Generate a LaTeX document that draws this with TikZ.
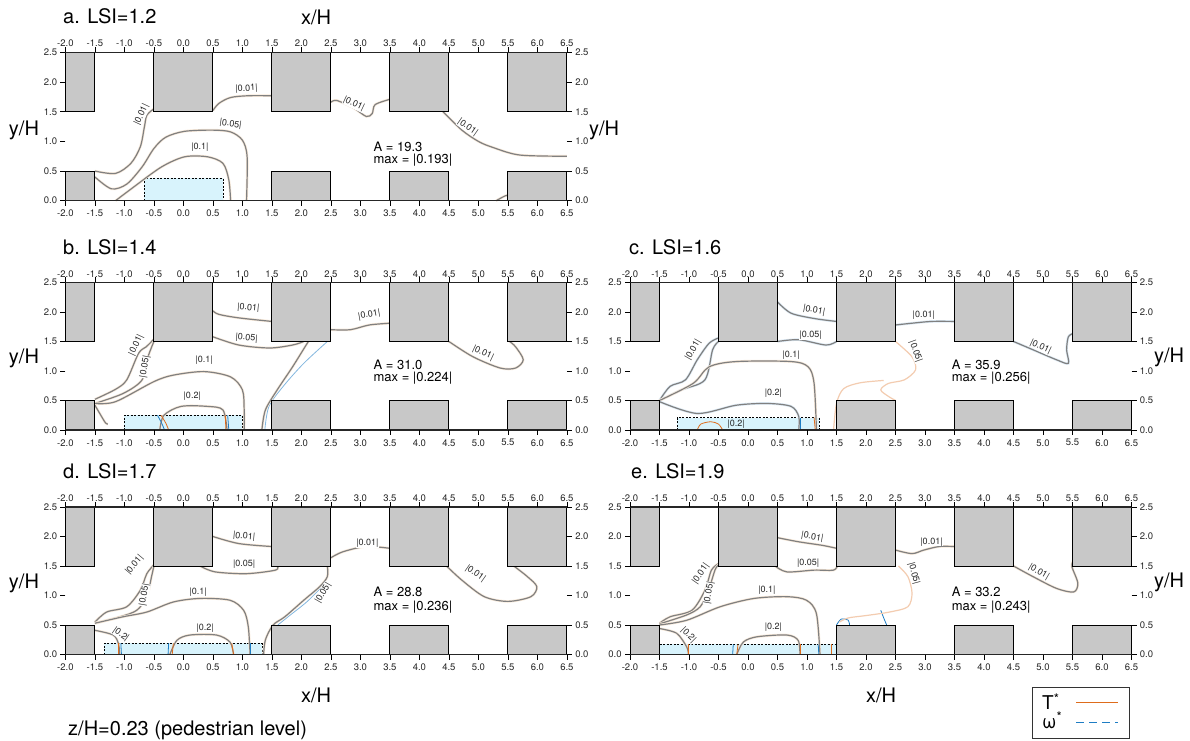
\documentclass[tikz,border=0pt]{standalone}
\usepackage{fontspec}
\setmainfont{TeX Gyre Heros}
\usepackage{xcolor}
\usetikzlibrary{positioning, calc}

\definecolor{bldgfill}{RGB}{200,200,200}
\definecolor{zonefill}{RGB}{216,243,252}
\definecolor{tcol}{RGB}{222,108,28}
\definecolor{wcol}{RGB}{30,125,196}
\definecolor{ctrgray}{RGB}{128,128,128}
\definecolor{halo}{RGB}{249,234,218}

\tikzset{
    bldg/.style={fill=bldgfill, draw=black, line width=0.9pt},
    axisline/.style={draw=black!85, line width=1.3pt},
    tickmark/.style={draw=black, line width=0.7pt},
    ticklab/.style={font=\fontsize{9.5}{10}\selectfont, inner sep=0pt, text=black!85},
    zone/.style={fill=zonefill, draw=black, line width=0.6pt, dash pattern=on 2pt off 1.5pt},
    ctr/.style={draw=ctrgray, line width=1.2pt, preaction={draw=halo, line width=2.5pt}},
    ctrw/.style={draw=ctrgray, line width=1.2pt, preaction={draw=wcol!15, line width=2.5pt}},
    tan/.style={draw=tcol!35, line width=1.2pt},
    tline/.style={draw=tcol, line width=0.8pt},
    wline/.style={draw=wcol, line width=0.8pt},
    lab/.style={font=\fontsize{9}{10}\selectfont, fill=white, inner sep=0.4pt, text=black!85},
    info/.style={font=\fontsize{13}{15}\selectfont, anchor=west, inner sep=0pt},
    ttl/.style={font=\fontsize{20}{24}\selectfont, anchor=base west, inner sep=0pt},
    axl/.style={font=\fontsize{20}{24}\selectfont, inner sep=0pt}
}

% buildings, axes and tick labels of one panel
\newcommand{\panelframe}[1]{%
    \foreach \xa/\xb in {-2/-1.5,1.5/2.5,3.5/4.5,5.5/6.5} {%
        \draw[bldg] (\xa,0) rectangle (\xb,0.5);
    }
    \foreach \xa/\xb in {-2/-1.5,-0.5/0.5,1.5/2.5,3.5/4.5,5.5/6.5} {%
        \draw[bldg] (\xa,1.5) rectangle (\xb,2.5);
    }
    \draw[axisline] (-2,2.5) -- (6.5,2.5);
    \draw[axisline] (-2,0) -- (6.5,0);
    \foreach \v [count=\k] in {-2.0,-1.5,-1.0,-0.5,0.0,0.5,1.0,1.5,2.0,2.5,3.0,3.5,4.0,4.5,5.0,5.5,6.0,6.5} {%
        \draw[tickmark] (\v,2.5) -- ++(0,5pt) node[ticklab, anchor=south] (#1top\k) {\v};
        \draw[tickmark] (\v,0) -- ++(0,-5pt) node[ticklab, anchor=north, yshift=-4pt] (#1bot\k) {\v};
    }
    \foreach \v [count=\k] in {0.0,0.5,1.0,1.5,2.0,2.5} {%
        \draw[tickmark] (-2,\v) -- ++(-5pt,0) node[ticklab, anchor=east, xshift=-3pt] (#1lft\k) {\v};
        \draw[tickmark] (6.5,\v) -- ++(5pt,0) node[ticklab, anchor=west, xshift=3pt] (#1rgt\k) {\v};
    }
}

\begin{document}
\begin{tikzpicture}

\fill[white] (0,0) rectangle (1190pt,740pt);
\useasboundingbox (0,0) rectangle (1190pt,740pt);

% === PANEL a: LSI=1.2 ===
\begin{scope}[shift={(183.4pt,539.3pt)}, x=59pt, y=59.3pt]
    \draw[zone] (-0.66,0) rectangle (0.67,0.38);
    \draw[ctr] plot[smooth] coordinates {(-1.5,0.5) (-1.15,0.46) (-0.89,0.63) (-0.73,0.91) (-0.66,1.25) (-0.62,1.44) (-0.5,1.55)};
    \draw[ctr] plot[smooth] coordinates {(0.5,1.52) (0.6,1.64) (0.8,1.74) (1.1,1.77) (1.5,1.77)};
    \draw[ctr] plot[smooth] coordinates {(2.5,1.66) (2.6,1.69) (2.89,1.56) (3.1,1.42) (3.2,1.47) (3.25,1.62) (3.5,1.71)};
    \draw[ctr] plot[smooth] coordinates {(4.4,1.5) (4.72,1.19) (5.0,1.0) (5.24,0.9) (5.7,0.77) (6.5,0.75)};
    \draw[ctr] plot[smooth] coordinates {(-1.5,0.4) (-1.22,0.2) (-0.96,0.28) (-0.7,0.57) (-0.5,0.88) (-0.3,1.07) (0.02,1.17) (0.5,1.19) (0.8,1.16) (1.0,1.02) (1.08,0.74) (1.07,0)};
    \draw[ctr] plot[smooth] coordinates {(-1.15,0) (-0.83,0.24) (-0.37,0.57) (0.02,0.74) (0.41,0.74) (0.67,0.63) (0.77,0.35) (0.8,0)};
    \draw[ctr] plot[smooth] coordinates {(5.3,0) (5.45,0.08) (5.53,0.1)};
    \node[lab, rotate=65] (a001a) at (-0.71,1.45) {|0.01|};
    \node[lab, rotate=3] (a001b) at (1.07,1.89) {|0.01|};
    \node[lab, rotate=-25] (a001c) at (2.89,1.63) {|0.01|};
    \node[lab, rotate=-35] (a001d) at (4.82,1.24) {|0.01|};
    \node[lab, rotate=-8] (a005) at (0.8,1.29) {|0.05|};
    \node[lab] (a01) at (0.28,0.9) {|0.1|};
    \panelframe{a}
    \node[info] (aA) at (3.22,0.91) {A = 19.3};
    \node[info] (aMax) at (3.22,0.69) {max = |0.193|};
\end{scope}

% === PANEL b: LSI=1.4 ===
\begin{scope}[shift={(183.4pt,310pt)}, x=59pt, y=59pt]
    \draw[zone] (-1,0) rectangle (1,0.25);
    \draw[wline, draw=wcol!55] plot[smooth] coordinates {(2.44,1.5) (2.04,1.13) (1.7,0.75) (1.45,0.4) (1.38,0)};
    \draw[ctr] plot[smooth] coordinates {(-1.5,0.52) (-1.15,0.69) (-0.96,0.85) (-0.76,1.3) (-0.63,1.41) (-0.5,1.54)};
    \draw[ctr] plot[smooth] coordinates {(-1.5,0.45) (-1.02,0.62) (-0.7,0.85) (-0.6,1.24) (-0.5,1.5)};
    \draw[ctr] plot[smooth] coordinates {(0.5,2.02) (0.6,1.96) (0.94,1.9) (1.5,1.84)};
    \draw[ctr] plot[smooth] coordinates {(2.5,1.7) (2.83,1.7) (3.15,1.78) (3.5,1.81)};
    \draw[ctr] plot[smooth] coordinates {(4.5,1.5) (4.91,1.24) (5.37,1.05) (5.63,1.05) (5.76,1.19) (5.63,1.41) (5.53,1.5)};
    \draw[ctr] plot[smooth] coordinates {(0.5,1.58) (0.94,1.44) (1.46,1.39) (1.85,1.44) (2.04,1.5)};
    \draw[ctr] plot[smooth] coordinates {(2.12,1.5) (2.08,1.44) (1.85,1.07) (1.59,0.68) (1.39,0.34) (1.33,0)};
    \draw[ctr] plot[smooth] coordinates {(-1.5,0.45) (-1.15,0.48) (-0.5,0.82) (-0.17,0.93) (0.35,0.99) (0.8,0.9) (1.0,0.68) (1.03,0.34) (1.03,0)};
    \draw[ctr] plot[smooth] coordinates {(-0.4,0) (-0.33,0.25) (-0.04,0.4) (0.41,0.4) (0.67,0.34) (0.74,0)};
    \draw[ctr] plot[smooth] coordinates {(-1.5,0.42) (-1.4,0.25) (-1.32,0.12) (-1.28,0.1)};
    \draw[tline] plot[smooth] coordinates {(-0.38,0.25) (-0.3,0.12) (-0.25,0)};
    \draw[wline] plot[smooth] coordinates {(-0.44,0.25) (-0.37,0.12) (-0.32,0)};
    \draw[tline] (0.71,0.25) -- (0.72,0);
    \draw[wline] (0.75,0.25) -- (0.77,0);
    \node[lab, rotate=65] (b001a) at (-0.8,1.44) {|0.01|};
    \node[lab, rotate=80] (b005a) at (-0.65,1.07) {|0.05|};
    \node[lab, rotate=-5] (b001b) at (1.1,2.07) {|0.01|};
    \node[lab, rotate=10] (b001c) at (3.15,1.95) {|0.01|};
    \node[lab, rotate=-25] (b001d) at (5.08,1.3) {|0.01|};
    \node[lab, rotate=-5] (b005b) at (1.07,1.56) {|0.05|};
    \node[lab] (b01) at (0.35,1.19) {|0.1|};
    \node[lab] (b02) at (0.15,0.57) {|0.2|};
    \panelframe{b}
    \node[info] (bA) at (3.22,1.1) {A = 31.0};
    \node[info] (bMax) at (3.22,0.88) {max = |0.224|};
\end{scope}

% === PANEL c: LSI=1.6 ===
\begin{scope}[shift={(748pt,310pt)}, x=59pt, y=59pt]
    \draw[zone] (-1.2,0) rectangle (1.2,0.21);
    \draw[tan] plot[smooth] coordinates {(1.45,0) (1.5,0.45) (1.62,0.7) (1.9,0.8) (2.3,0.84)};
    \draw[ctrw] plot[smooth] coordinates {(-1.5,0.5) (-1.32,0.74) (-1.06,0.85) (-0.86,1.19) (-0.66,1.47) (-0.5,1.56)};
    \draw[ctrw] plot[smooth] coordinates {(-1.5,0.5) (-1.13,0.68) (-0.73,0.85) (-0.6,1.36) (-0.5,1.5)};
    \draw[ctr] plot[smooth] coordinates {(-1.5,0.5) (-0.93,0.79) (-0.66,1.07) (-0.2,1.16) (0.73,1.16) (1.02,1.07) (1.12,0.79) (1.16,0)};
    \draw[ctrw] plot[smooth] coordinates {(0.5,2.17) (0.73,1.98) (1.12,1.89) (1.5,1.84)};
    \draw[ctrw] plot[smooth] coordinates {(2.5,1.78) (2.78,1.81) (3.11,1.84) (3.5,1.84)};
    \draw[ctrw] plot[smooth] coordinates {(4.5,1.5) (4.83,1.36) (5.23,1.19) (5.43,1.13) (5.4,1.36) (5.43,1.58) (5.52,1.64)};
    \draw[ctrw] plot[smooth] coordinates {(0.5,1.5) (0.86,1.53) (1.32,1.44) (1.5,1.5)};
    \draw[tan] plot[smooth] coordinates {(2.5,1.5) (2.78,1.24) (2.84,1.02) (2.65,0.85) (2.38,0.79) (2.25,0.68) (2.38,0.57) (2.5,0.5)};
    \draw[ctrw] plot[smooth] coordinates {(-1.5,0.48) (-0.86,0.28) (-0.2,0.42) (0.33,0.45) (0.73,0.4) (0.86,0.23) (0.86,0)};
    \draw[tline] plot[smooth] coordinates {(-0.86,0) (-0.8,0.1) (-0.63,0.14) (-0.5,0.1) (-0.43,0)};
    \draw[wline] (0.88,0.21) -- (0.88,0);
    \draw[tline] (1.12,0.21) -- (1.14,0);
    \node[lab, rotate=60] (c001a) at (-0.93,1.36) {|0.01|};
    \node[lab, rotate=-10] (c001b) at (1.12,2.03) {|0.01|};
    \node[lab] (c001c) at (2.98,1.95) {|0.01|};
    \node[lab, rotate=-25] (c001d) at (4.96,1.41) {|0.01|};
    \node[lab] (c005b) at (1.06,1.61) {|0.05|};
    \node[lab, rotate=-70] (c005c) at (2.84,1.33) {|0.05|};
    \node[lab] (c01) at (0.73,1.27) {|0.1|};
    \node[lab] (c02) at (0.43,0.62) {|0.2|};
    \node[lab, fill=none] (c02b) at (-0.2,0.1) {|0.2|};
    \panelframe{c}
    \node[info] (cA) at (3.45,1.1) {A = 35.9};
    \node[info] (cMax) at (3.45,0.88) {max = |0.256|};
\end{scope}

% === PANEL d: LSI=1.7 ===
\begin{scope}[shift={(183.4pt,85.5pt)}, x=59pt, y=59pt]
    \draw[zone] (-1.34,0) rectangle (1.33,0.19);
    \draw[wline, draw=wcol!55] plot[smooth] coordinates {(2.4,1.2) (2.1,0.9) (1.8,0.66) (1.6,0.5)};
    \draw[ctr] plot[smooth] coordinates {(-1.5,0.55) (-1.3,0.72) (-0.96,0.81) (-0.73,1.09) (-0.62,1.37) (-0.5,1.52)};
    \draw[ctr] plot[smooth] coordinates {(-1.5,0.53) (-1.07,0.64) (-0.79,0.75) (-0.62,0.98) (-0.54,1.32) (-0.5,1.5)};
    \draw[ctr] plot[smooth] coordinates {(-1.5,0.53) (-1.02,0.64) (-0.62,0.72) (-0.17,0.89) (0.28,0.95) (0.79,0.92) (1.02,0.75) (1.1,0.47) (1.13,0)};
    \draw[ctr] plot[smooth] coordinates {(0.5,2.0) (0.94,1.88) (1.5,1.83)};
    \draw[ctr] plot[smooth] coordinates {(2.5,1.64) (2.7,1.74) (3.09,1.83) (3.5,1.8)};
    \draw[ctr] plot[smooth] coordinates {(4.46,1.5) (4.72,1.26) (5.1,0.98) (5.5,0.9) (5.89,0.98) (5.99,1.15) (5.83,1.32) (5.6,1.5)};
    \draw[ctr] plot[smooth] coordinates {(0.28,1.5) (0.54,1.4) (1.07,1.37) (1.56,1.43) (1.59,1.5)};
    \draw[ctr] plot[smooth] coordinates {(2.44,1.5) (2.44,1.32) (2.31,1.15) (2.04,0.92) (1.72,0.64) (1.52,0.5) (1.39,0.25) (1.36,0)};
    \draw[ctr] plot[smooth] coordinates {(-1.5,0.41) (-1.19,0.33) (-1.1,0.18) (-1.08,0)};
    \draw[ctr] plot[smooth] coordinates {(-0.23,0) (-0.11,0.24) (0.11,0.33) (0.56,0.33) (0.79,0.21) (0.85,0)};
    \draw[wline] (-1.06,0.19) -- (-1.05,0);
    \draw[tline] (-1.1,0.19) -- (-1.1,0);
    \draw[wline] (-0.25,0.19) -- (-0.26,0);
    \draw[tline] (-0.17,0.19) -- (-0.19,0);
    \draw[tline] (0.82,0.19) -- (0.85,0);
    \draw[wline] (1.13,0.19) -- (1.13,0);
    \node[lab, rotate=50] (d001a) at (-0.83,1.52) {|0.01|};
    \node[lab, rotate=80] (d005a) at (-0.66,1.01) {|0.05|};
    \node[lab, rotate=-5] (d001b) at (1.03,2.0) {|0.01|};
    \node[lab] (d001c) at (3.12,1.89) {|0.01|};
    \node[lab, rotate=-35] (d001d) at (4.95,1.37) {|0.01|};
    \node[lab] (d005b) at (1.03,1.53) {|0.05|};
    \node[lab, rotate=60] (d005c) at (2.37,1.04) {|0.05|};
    \node[lab] (d01) at (0.25,1.06) {|0.1|};
    \node[lab, rotate=-35] (d02a) at (-1.06,0.34) {|0.2|};
    \node[lab] (d02b) at (0.37,0.44) {|0.2|};
    \panelframe{d}
    \node[info] (dA) at (3.22,1.06) {A = 28.8};
    \node[info] (dMax) at (3.22,0.81) {max = |0.236|};
\end{scope}

% === PANEL e: LSI=1.9 ===
\begin{scope}[shift={(748pt,85.5pt)}, x=59pt, y=59pt]
    \fill[zonefill] (-1.5,0) rectangle (1.5,0.17);
    \draw[zone] (-1.5,0.17) -- (1.5,0.17);
    \draw[wline] plot[smooth] coordinates {(2.25,0.75) (2.3,0.62) (2.35,0.5)};
    \draw[wline] plot[smooth] coordinates {(1.5,0.5) (1.58,0.6) (1.7,0.58) (1.72,0.5)};
    \draw[ctr] plot[smooth] coordinates {(-1.5,0.53) (-1.32,0.64) (-0.95,0.75) (-0.73,1.09) (-0.62,1.43) (-0.5,1.54)};
    \draw[ctr] plot[smooth] coordinates {(-1.5,0.52) (-1.04,0.67) (-0.81,0.81) (-0.67,1.09) (-0.56,1.43) (-0.5,1.52)};
    \draw[ctr] plot[smooth] coordinates {(-1.5,0.5) (-1.04,0.58) (-0.47,0.81) (0.1,0.95) (0.66,0.98) (0.99,0.92) (1.16,0.69) (1.22,0)};
    \draw[ctr] plot[smooth] coordinates {(0.5,1.98) (0.86,1.91) (1.26,1.85) (1.5,1.8)};
    \draw[ctr] plot[smooth] coordinates {(2.5,1.77) (2.78,1.71) (2.98,1.77) (3.24,1.83) (3.5,1.83)};
    \draw[ctr] plot[smooth] coordinates {(4.5,1.5) (4.83,1.32) (5.23,1.12) (5.52,1.06) (5.59,1.21) (5.49,1.49) (5.52,1.6)};
    \draw[ctr] plot[smooth] coordinates {(0.46,1.5) (0.66,1.4) (1.12,1.43) (1.45,1.43) (1.52,1.52)};
    \draw[tan] plot[smooth] coordinates {(2.55,1.5) (2.71,1.32) (2.78,1.04) (2.71,0.81) (2.4,0.72) (2.0,0.66) (1.7,0.62) (1.55,0.55)};
    \draw[ctr] plot[smooth] coordinates {(-1.5,0.44) (-1.21,0.36) (-1.04,0.13) (-1.01,0)};
    \draw[ctr] plot[smooth] coordinates {(-0.19,0) (-0.08,0.21) (0.15,0.3) (0.66,0.33) (0.85,0.24) (0.88,0)};
    \draw[tline] (-1.01,0.17) -- (-1.01,0);
    \draw[wline] (-0.25,0.17) -- (-0.26,0);
    \draw[tline] (-0.17,0.17) -- (-0.19,0);
    \draw[tline] (0.88,0.17) -- (0.88,0);
    \draw[wline] (1.19,0.17) -- (1.2,0);
    \draw[tline] (1.42,0.17) -- (1.42,0);
    \node[lab, rotate=55] (e001a) at (-0.8,1.37) {|0.01|};
    \node[lab, rotate=80] (e005a) at (-0.66,1.04) {|0.05|};
    \node[lab, rotate=-10] (e001b) at (1.09,1.99) {|0.01|};
    \node[lab] (e001c) at (3.11,1.91) {|0.01|};
    \node[lab, rotate=-30] (e001d) at (4.93,1.4) {|0.01|};
    \node[lab] (e005b) at (1.02,1.54) {|0.05|};
    \node[lab, rotate=-75] (e005c) at (2.81,1.37) {|0.05|};
    \node[lab] (e01) at (0.32,1.09) {|0.1|};
    \node[lab, rotate=-45] (e02a) at (-1.01,0.33) {|0.2|};
    \node[lab] (e02b) at (0.43,0.47) {|0.2|};
    \panelframe{e}
    \node[info] (eA) at (3.45,1.06) {A = 33.2};
    \node[info] (eMax) at (3.45,0.81) {max = |0.243|};
\end{scope}

% === TITLES AND AXIS NAMES ===
\node[ttl] (ttlA) at (63pt,716pt) {a. LSI=1.2};
\node[ttl] (ttlB) at (63pt,485.3pt) {b. LSI=1.4};
\node[ttl] (ttlC) at (629pt,485.3pt) {c. LSI=1.6};
\node[ttl] (ttlD) at (63pt,261.3pt) {d. LSI=1.7};
\node[ttl] (ttlE) at (631pt,261.3pt) {e. LSI=1.9};
\node[axl] (xlabA) at (316pt,723pt) {x/H};
\node[axl] (ylabAl) at (24pt,610pt) {y/H};
\node[axl] (ylabAr) at (604pt,610pt) {y/H};
\node[axl] (ylabBl) at (24pt,382pt) {y/H};
\node[axl] (ylabCr) at (1169pt,383pt) {y/H};
\node[axl] (ylabDl) at (24pt,157pt) {y/H};
\node[axl] (ylabEr) at (1169pt,158pt) {y/H};
\node[axl] (xlabD) at (316pt,45pt) {x/H};
\node[axl] (xlabE) at (881pt,45pt) {x/H};
\node[ttl] (level) at (68pt,5pt) {z/H=0.23 (pedestrian level)};

% === LEGEND ===
\node[draw=black!80, line width=0.9pt, minimum width=97pt, minimum height=51pt, inner sep=0pt] (legbox) at (1080.5pt,27.5pt) {};
\node[font=\fontsize{19}{22}\selectfont, anchor=base west, inner sep=0pt] (legT) at (1042pt,30.7pt) {T\textsuperscript{*}};
\node[font=\fontsize{19}{22}\selectfont, anchor=base west, inner sep=0pt] (legW) at (1042pt,12pt) {ω\textsuperscript{*}};
\coordinate (legT1) at (1076pt,37.3pt);
\coordinate (legT2) at (1118pt,37.3pt);
\coordinate (legW1) at (1076pt,17.7pt);
\coordinate (legW2) at (1118pt,17.7pt);
\draw[tcol, line width=1.3pt] (legT1) -- (legT2);
\draw[wcol, line width=1.3pt, dash pattern=on 8pt off 5pt] (legW1) -- (legW2);

\end{tikzpicture}
\end{document}
